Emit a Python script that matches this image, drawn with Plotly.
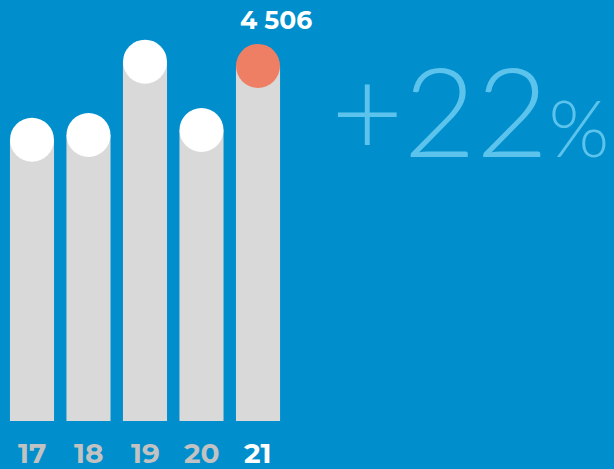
import plotly.graph_objects as go

years = ["17", "18", "19", "20", "21"]
values = [3570, 3630, 4560, 3693, 4506]
label_text = "4 506"
growth_text = "+22"

BG = "#008FCC"
BAR = "#D9D9D9"
xs = list(range(len(years)))

fig = go.Figure()
fig.add_trace(go.Bar(x=xs, y=values, width=0.78, marker=dict(color=BAR, line=dict(width=0)),
                     hoverinfo="skip"))
fig.add_trace(go.Scatter(x=xs, y=values, mode="markers",
                         marker=dict(size=44, color=["white"] * 4 + ["#EF7F64"], line=dict(width=0)),
                         hoverinfo="skip"))

for i, y in enumerate(years):
    last = i == len(years) - 1
    fig.add_annotation(x=i, y=0, yref="y", yshift=-32, text=f"<b>{y}</b>", showarrow=False,
                       font=dict(family="Montserrat, Roboto, sans-serif", size=28,
                                 color="white" if last else "#C2C2C2"))

fig.add_annotation(x=4.32, y=values[-1], yshift=46, text=f"<b>{label_text}</b>", showarrow=False,
                   font=dict(family="Montserrat, Roboto, sans-serif", size=25, color="white"))

fig.add_annotation(x=5.25, y=values[-1], yshift=-43, xanchor="left",
                   text=growth_text + "<span style='font-size:78px'>%</span>",
                   showarrow=False,
                   font=dict(family="Lato", size=125, color="#5BC3EC", weight=300))

fig.update_layout(
    width=614, height=469, margin=dict(l=0, r=0, t=0, b=0),
    paper_bgcolor=BG, plot_bgcolor=BG, showlegend=False,
    xaxis=dict(range=[-0.566, 10.30], visible=False, fixedrange=True),
    yaxis=dict(range=[-609, 5343], visible=False, fixedrange=True),
)
fig.write_html("out.html", config={"displayModeBar": False, "staticPlot": True},
               post_script="document.body.style.margin='0';document.body.style.overflow='hidden';")
